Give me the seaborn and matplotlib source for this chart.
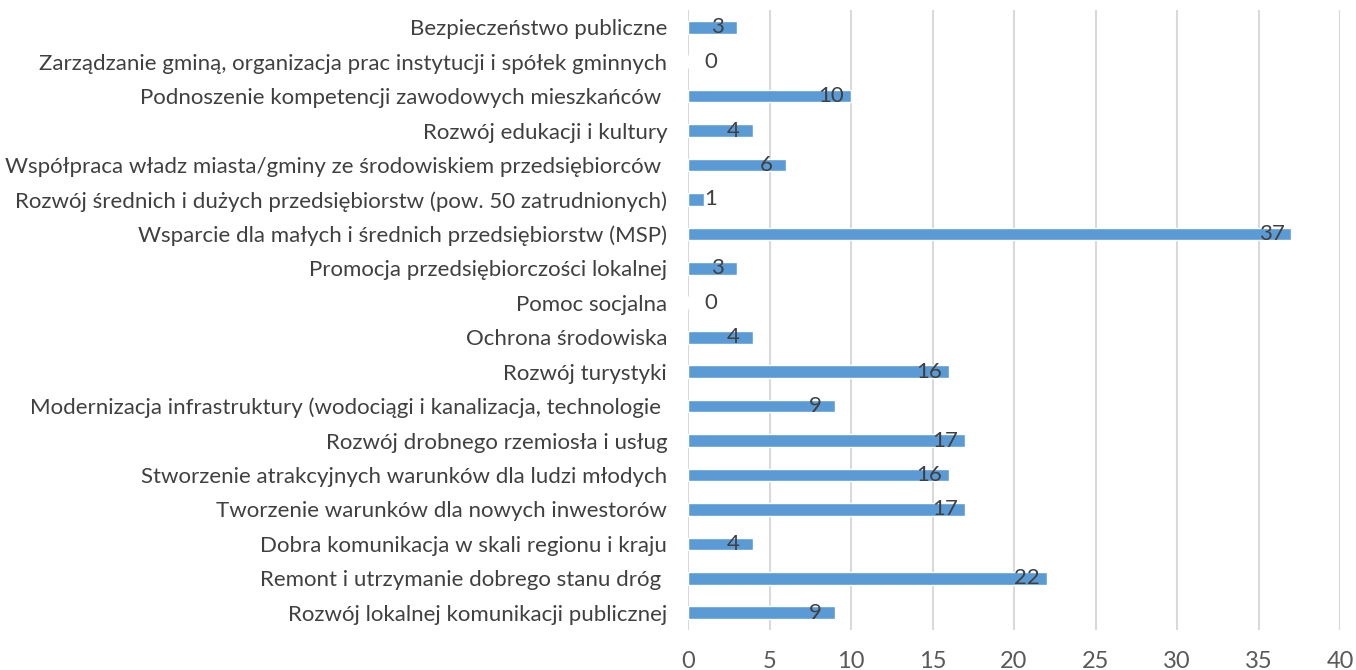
import matplotlib
matplotlib.use("Agg")
import matplotlib.pyplot as plt
import pandas as pd
import seaborn as sns

# kategorie od góry do dołu
categories = [
    "Bezpieczeństwo publiczne",
    "Zarządzanie gminą, organizacja prac instytucji i spółek gminnych",
    "Podnoszenie kompetencji zawodowych mieszkańców ",
    "Rozwój edukacji i kultury",
    "Współpraca władz miasta/gminy ze środowiskiem przedsiębiorców ",
    "Rozwój średnich i dużych przedsiębiorstw (pow. 50 zatrudnionych)",
    "Wsparcie dla małych i średnich przedsiębiorstw (MSP)",
    "Promocja przedsiębiorczości lokalnej",
    "Pomoc socjalna",
    "Ochrona środowiska",
    "Rozwój turystyki",
    "Modernizacja infrastruktury (wodociągi i kanalizacja, technologie ",
    "Rozwój drobnego rzemiosła i usług",
    "Stworzenie atrakcyjnych warunków dla ludzi młodych",
    "Tworzenie warunków dla nowych inwestorów",
    "Dobra komunikacja w skali regionu i kraju",
    "Remont i utrzymanie dobrego stanu dróg ",
    "Rozwój lokalnej komunikacji publicznej",
]
values = [3, 0, 10, 4, 6, 1, 37, 3, 0, 4, 16, 9, 17, 16, 17, 4, 22, 9]
x_ticks = [0, 5, 10, 15, 20, 25, 30, 35, 40]

df = pd.DataFrame({"kategoria": categories, "liczba": values})

sns.set_style("white")
plt.rcParams["font.family"] = ["Lato", "DejaVu Sans"]

fig = plt.figure(figsize=(13.56, 6.70), dpi=100)
ax = fig.add_axes([0.5074, 0.0597, 0.4808, 0.9254])

ax.grid(axis="x", color="#d9d9d9", linewidth=1.5)
ax.set_axisbelow(True)
sns.barplot(data=df, x="liczba", y="kategoria", color="#5b9bd5", saturation=1,
            width=0.37, ax=ax)

ax.set_xlim(0, 40)
ax.set_xticks(x_ticks)
ax.set_xlabel("")
ax.set_ylabel("")
for s in ax.spines.values():
    s.set_visible(False)
ax.tick_params(axis="x", length=0, pad=15, labelsize=17, labelcolor="#595959")
ax.tick_params(axis="y", length=0, pad=15, labelsize=16, labelcolor="#404040")

# etykiety wartości przy końcu słupka
for i, v in enumerate(values):
    xpos = max(v - 1.2, 1.4)
    ax.text(xpos, i, str(v), ha="center", va="center", fontsize=16,
            color="#404040")

fig.savefig("out.png", dpi=100)
